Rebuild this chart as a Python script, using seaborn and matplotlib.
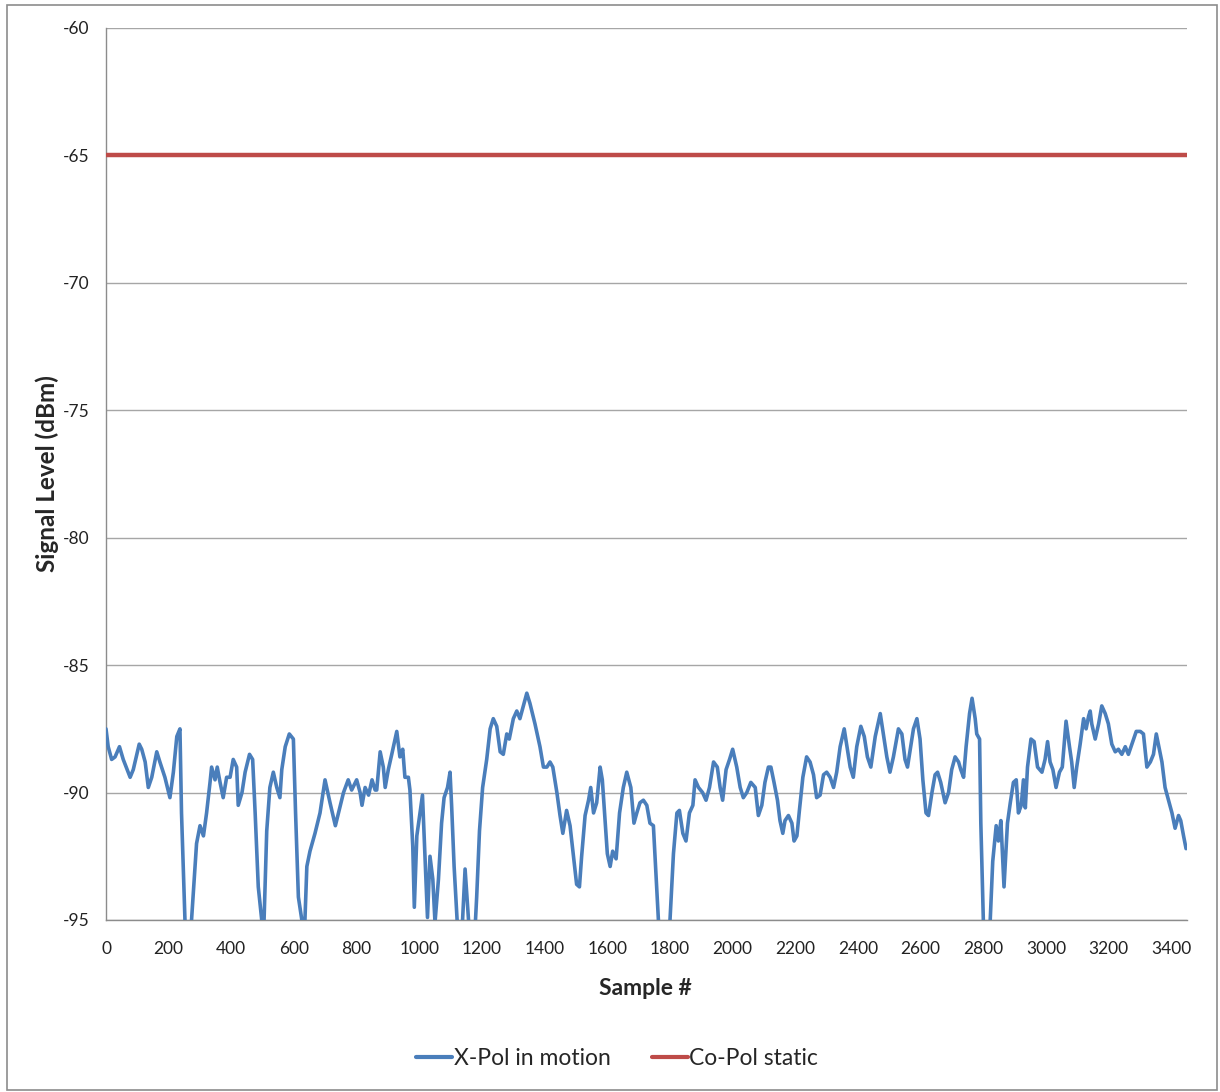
import matplotlib
matplotlib.use("Agg")
import matplotlib.pyplot as plt
import matplotlib.patches as mpatches
import seaborn as sns
import pandas as pd

# X-Pol received level while the terminal is moving (sample index, dBm)
xpol_sample = [
    0, 7, 18, 29, 43, 55, 77, 87, 106, 114, 125, 135, 146, 162, 172, 188, 204, 215, 226, 236,
    241, 252, 262, 273, 289, 300, 311, 321, 332, 337, 348, 355, 364, 374, 385, 396, 406, 417, 422, 434,
    444, 458, 468, 476, 486, 497, 502, 513, 523, 534, 545, 555, 561, 572, 585, 598, 605, 614, 625, 632,
    641, 651, 667, 683, 699, 715, 732, 742, 758, 773, 784, 800, 811, 817, 827, 838, 849, 859, 864, 875,
    885, 891, 901, 912, 928, 938, 947, 954, 965, 970, 979, 984, 992, 1002, 1010, 1018, 1026, 1034, 1043, 1050,
    1061, 1071, 1079, 1090, 1098, 1103, 1111, 1121, 1132, 1146, 1157, 1173, 1183, 1192, 1202, 1215, 1226, 1236, 1247, 1258,
    1268, 1279, 1287, 1300, 1311, 1321, 1332, 1343, 1353, 1369, 1385, 1396, 1407, 1417, 1426, 1439, 1449, 1458, 1470, 1481,
    1492, 1502, 1511, 1518, 1529, 1540, 1547, 1556, 1566, 1577, 1584, 1593, 1600, 1609, 1617, 1628, 1639, 1651, 1662, 1675,
    1685, 1694, 1704, 1715, 1726, 1736, 1747, 1756, 1763, 1779, 1800, 1811, 1822, 1830, 1841, 1851, 1862, 1873, 1880, 1891,
    1904, 1915, 1926, 1939, 1951, 1960, 1968, 1979, 1990, 2000, 2013, 2024, 2034, 2045, 2058, 2072, 2082, 2093, 2103, 2114,
    2122, 2132, 2143, 2151, 2160, 2167, 2178, 2189, 2196, 2205, 2213, 2224, 2236, 2247, 2258, 2268, 2279, 2290, 2300, 2311,
    2322, 2332, 2343, 2356, 2366, 2375, 2385, 2396, 2409, 2420, 2430, 2441, 2455, 2471, 2481, 2492, 2502, 2513, 2529, 2540,
    2550, 2558, 2568, 2577, 2588, 2598, 2607, 2617, 2625, 2636, 2646, 2654, 2664, 2678, 2689, 2699, 2710, 2721, 2728, 2737,
    2745, 2756, 2764, 2774, 2779, 2788, 2792, 2800, 2809, 2822, 2830, 2841, 2848, 2856, 2866, 2877, 2886, 2896, 2905, 2912,
    2921, 2928, 2934, 2941, 2952, 2962, 2973, 2987, 2997, 3005, 3013, 3022, 3032, 3043, 3052, 3064, 3075, 3082, 3090, 3098,
    3109, 3120, 3128, 3136, 3141, 3146, 3157, 3168, 3178, 3189, 3199, 3210, 3221, 3231, 3242, 3253, 3263, 3274, 3288, 3301,
    3311, 3322, 3333, 3343, 3352, 3362, 3370, 3380, 3391, 3402, 3412, 3423, 3430, 3439, 3447,
]
xpol_level = [
    -87.5, -88.2, -88.7, -88.6, -88.2, -88.7, -89.4, -89.1, -88.1, -88.3, -88.8, -89.8, -89.4, -88.4, -88.8, -89.4, -90.2, -89.2, -87.8, -87.5,
    -90.8, -95.0, -96.5, -95.0, -92.0, -91.3, -91.7, -90.8, -89.6, -89.0, -89.5, -89.0, -89.6, -90.2, -89.4, -89.4, -88.7, -89.0, -90.5, -90.0,
    -89.2, -88.5, -88.7, -90.8, -93.7, -95.0, -96.0, -91.5, -89.8, -89.2, -89.8, -90.2, -89.1, -88.2, -87.7, -87.9, -90.8, -94.1, -95.0, -96.0,
    -92.9, -92.3, -91.6, -90.8, -89.5, -90.4, -91.3, -90.8, -90.0, -89.5, -89.9, -89.5, -90.0, -90.5, -89.8, -90.1, -89.5, -89.9, -89.9, -88.4,
    -89.0, -89.8, -89.1, -88.5, -87.6, -88.6, -88.3, -89.4, -89.4, -89.9, -92.1, -94.5, -91.7, -90.8, -90.1, -92.5, -94.9, -92.5, -93.4, -95.1,
    -93.4, -91.2, -90.2, -89.8, -89.2, -90.5, -92.9, -95.1, -96.5, -93.0, -95.0, -96.5, -94.1, -91.5, -89.8, -88.7, -87.5, -87.1, -87.4, -88.4,
    -88.5, -87.7, -87.9, -87.1, -86.8, -87.1, -86.6, -86.1, -86.5, -87.3, -88.2, -89.0, -89.0, -88.8, -89.0, -90.0, -90.9, -91.6, -90.7, -91.3,
    -92.5, -93.6, -93.7, -92.5, -90.9, -90.3, -89.8, -90.8, -90.4, -89.0, -89.5, -91.1, -92.4, -92.9, -92.3, -92.6, -90.8, -89.8, -89.2, -89.8,
    -91.2, -90.8, -90.4, -90.3, -90.5, -91.2, -91.3, -93.4, -95.0, -96.5, -95.0, -92.4, -90.8, -90.7, -91.6, -91.9, -90.8, -90.5, -89.5, -89.8,
    -90.0, -90.3, -89.8, -88.8, -89.0, -89.8, -90.3, -89.1, -88.7, -88.3, -89.0, -89.8, -90.2, -90.0, -89.6, -89.8, -90.9, -90.5, -89.6, -89.0,
    -89.0, -89.6, -90.3, -91.1, -91.6, -91.1, -90.9, -91.2, -91.9, -91.7, -90.7, -89.4, -88.6, -88.8, -89.3, -90.2, -90.1, -89.3, -89.2, -89.4,
    -89.8, -89.2, -88.2, -87.5, -88.3, -89.0, -89.4, -88.2, -87.4, -87.8, -88.6, -89.0, -87.8, -86.9, -87.7, -88.6, -89.2, -88.6, -87.5, -87.7,
    -88.7, -89.0, -88.2, -87.5, -87.1, -87.9, -89.5, -90.8, -90.9, -90.0, -89.3, -89.2, -89.6, -90.4, -90.0, -89.1, -88.6, -88.8, -89.1, -89.4,
    -88.2, -86.9, -86.3, -87.1, -87.7, -87.9, -91.2, -95.0, -96.5, -95.0, -92.7, -91.3, -91.9, -91.1, -93.7, -91.2, -90.4, -89.6, -89.5, -90.8,
    -90.5, -89.5, -90.6, -89.0, -87.9, -88.0, -89.0, -89.2, -88.7, -88.0, -88.8, -89.1, -89.8, -89.2, -89.0, -87.2, -88.2, -88.8, -89.8, -89.0,
    -88.1, -87.1, -87.5, -87.0, -86.8, -87.3, -87.9, -87.3, -86.6, -86.9, -87.3, -88.1, -88.4, -88.3, -88.5, -88.2, -88.5, -88.1, -87.6, -87.6,
    -87.7, -89.0, -88.8, -88.5, -87.7, -88.3, -88.8, -89.8, -90.3, -90.8, -91.4, -90.9, -91.1, -91.7, -92.2,
]

# Co-Pol reference level measured with the terminal static
copol_sample = [0, 3450]
copol_level = [-65.0, -65.0]

y_ticks = [-60, -65, -70, -75, -80, -85, -90, -95]
x_ticks = list(range(0, 3401, 200))

xpol = pd.DataFrame({"Sample": xpol_sample, "Level": xpol_level})
copol = pd.DataFrame({"Sample": copol_sample, "Level": copol_level})

sns.set_style("white")
plt.rcParams["font.family"] = ["Lato", "DejaVu Sans"]
plt.rcParams["axes.unicode_minus"] = False

fig = plt.figure(figsize=(12.2, 10.92), dpi=100)
ax = fig.add_axes([106 / 1220, 1 - 920 / 1092, (1187 - 106) / 1220, (920 - 28) / 1092])

blue = "#4A7EBB"
red = "#BE4B48"

sns.lineplot(data=xpol, x="Sample", y="Level", ax=ax, color=blue, linewidth=2.6,
             label="X-Pol in motion", zorder=3)
sns.lineplot(data=copol, x="Sample", y="Level", ax=ax, color=red, linewidth=3.2,
             label="Co-Pol static", zorder=3)

ax.set_xlim(0, 3450)
ax.set_ylim(-95, -60)
ax.set_yticks(y_ticks)
ax.set_xticks(x_ticks)
ax.set_xticks(list(range(0, 3401, 100)), minor=True)
ax.yaxis.grid(True, color="#a6a6a6", linewidth=1.0)
ax.set_axisbelow(True)

for side in ("top", "right"):
    ax.spines[side].set_visible(False)
for side in ("left", "bottom"):
    ax.spines[side].set_color("#8c8c8c")
    ax.spines[side].set_linewidth(1.0)

ax.tick_params(axis="y", which="major", direction="out", length=4, color="#8c8c8c",
               labelsize=12.5, pad=8, labelcolor="#222222")
ax.tick_params(axis="x", which="major", direction="out", length=5, color="#8c8c8c",
               labelsize=12.5, pad=10, labelcolor="#222222")
ax.tick_params(axis="x", which="minor", direction="out", length=5, color="#8c8c8c")

ax.set_xlabel("Sample #", fontsize=16.5, fontweight="bold")
ax.set_ylabel("Signal Level (dBm)", fontsize=17.5, fontweight="bold")
ax.xaxis.set_label_coords((645 - 106) / 1081, (920 - 978) / 892)
ax.yaxis.set_label_coords((59 - 106) / 1081, 0.5)

leg = ax.legend(loc="center", bbox_to_anchor=(617 / 1220, 0.031), bbox_transform=fig.transFigure,
                ncol=2, frameon=False, fontsize=16.5, handlelength=1.6, handletextpad=0.05,
                columnspacing=1.8)
for line in leg.get_lines():
    line.set_linewidth(3)

# outer chart border
fig.patches.append(mpatches.Rectangle((7 / 1220, 2 / 1092), 1210 / 1220, 1085 / 1092,
                                      transform=fig.transFigure, fill=False,
                                      edgecolor="#8c8c8c", linewidth=1.2))

fig.savefig("out.png", dpi=100)
